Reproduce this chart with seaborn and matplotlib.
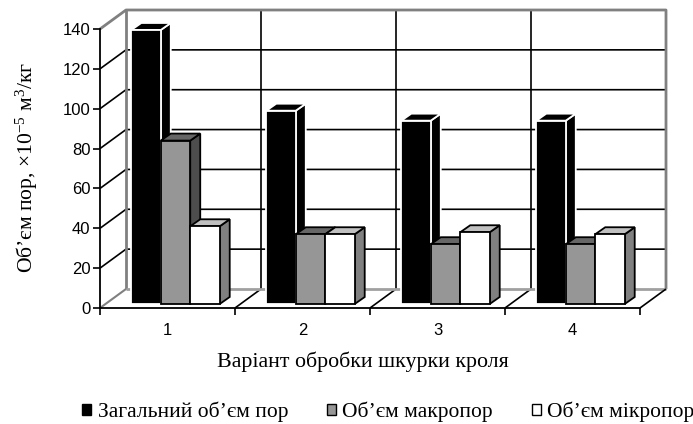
import pandas as pd
import seaborn as sns
import matplotlib.pyplot as plt
from matplotlib.patches import Patch, Polygon
from matplotlib.transforms import Affine2D

variants = ["1", "2", "3", "4"]
series_names = ["Загальний об’єм пор", "Об’єм макропор", "Об’єм мікропор"]
total_pores = [137.5, 97, 92, 92]
macro_pores = [82, 35, 30, 30]
micro_pores = [39, 35, 36, 35]
y_ticks = [0, 20, 40, 60, 80, 100, 120, 140]

# front, side, top colour and outline of each series
front_colors = ["#000000", "#969696", "#ffffff"]
side_colors = ["#000000", "#4d4d4d", "#808080"]
top_colors = ["#000000", "#666666", "#c0c0c0"]
edge_colors = ["#ffffff", "#000000", "#000000"]

df = pd.DataFrame({
    "variant": variants * 3,
    "series": [s for s in series_names for _ in variants],
    "value": total_pores + macro_pores + micro_pores,
})

sns.set_theme(style="white")
plt.rcParams["font.family"] = ["Liberation Sans", "DejaVu Sans"]
plt.rcParams["mathtext.fontset"] = "custom"
plt.rcParams["mathtext.rm"] = "Liberation Serif"
plt.rcParams["mathtext.it"] = "Liberation Serif"
plt.rcParams["mathtext.default"] = "rm"

W, H = 693, 424
fig = plt.figure(figsize=(W / 100, H / 100), dpi=100)
ax = fig.add_axes([100 / W, 1 - 308 / H, 540 / W, 279 / H])

sns.barplot(data=df, x="variant", y="value", hue="series", hue_order=series_names,
            palette=front_colors, saturation=1, width=0.655, gap=0, legend=False, ax=ax)
ax.set_xlim(-0.5, 3.5)
ax.set_ylim(0, 140)

# one pixel in data units, the fake 3D is done with these
px = 4 / 540
py = 140 / 279
wall_dx, wall_dy = 26 * px, 19 * py
bar_off_x, bar_off_y = 8 * px, 4 * py
depth_x, depth_y = 10 * px, 7 * py

x0, x1 = ax.get_xlim()
top = 140


def wall_line(xs, ys, color, lw=1.2, z=1):
    ax.plot(xs, ys, color=color, lw=lw, zorder=z, clip_on=False, solid_capstyle="butt")


# grid on the left wall and back wall
for t in y_ticks[1:-1]:
    wall_line([x0, x0 + wall_dx, x1 + wall_dx], [t, t + wall_dy, t + wall_dy], "black")
for k in range(1, 4):
    c = x0 + k
    wall_line([c, c + wall_dx, c + wall_dx], [0, wall_dy, top + wall_dy], "black")

# wall outline
wall_line([x0, x0 + wall_dx, x1 + wall_dx, x1 + wall_dx],
          [top, top + wall_dy, top + wall_dy, wall_dy], "#808080", lw=2)
wall_line([x0 + wall_dx, x0 + wall_dx], [top + wall_dy, wall_dy], "#808080", lw=2)
wall_line([x0 + wall_dx, x1 + wall_dx], [wall_dy, wall_dy], "#a0a0a0", lw=2)
wall_line([x0, x0 + wall_dx], [0, wall_dy], "#808080", lw=1.5)
wall_line([x1, x1 + wall_dx], [0, wall_dy], "black", lw=1.2)

# move front faces onto the floor and add side and top faces
for i, container in enumerate(ax.containers):
    for bar in container:
        bar.set_transform(Affine2D().translate(bar_off_x, bar_off_y) + ax.transData)
        bar.set_edgecolor(edge_colors[i])
        bar.set_linewidth(1.3)
        bar.set_clip_on(False)
        bar.set_zorder(4 + 2 * i)
        left = bar.get_x() + bar_off_x
        right = left + bar.get_width()
        low = bar_off_y
        high = bar.get_height() + bar_off_y
        side = Polygon([(right, low), (right + depth_x, low + depth_y),
                        (right + depth_x, high + depth_y), (right, high)],
                       facecolor=side_colors[i], edgecolor=edge_colors[i], lw=1.3,
                       zorder=3 + 2 * i, clip_on=False)
        roof = Polygon([(left, high), (left + depth_x, high + depth_y),
                        (right + depth_x, high + depth_y), (right, high)],
                       facecolor=top_colors[i], edgecolor=edge_colors[i], lw=1.3,
                       zorder=3 + 2 * i, clip_on=False)
        ax.add_patch(side)
        ax.add_patch(roof)

sns.despine(ax=ax, top=True, right=True)
for name in ["left", "bottom"]:
    ax.spines[name].set_color("black")
    ax.spines[name].set_linewidth(1.3)

ax.set_yticks(y_ticks)
ax.tick_params(axis="y", left=True, length=5, width=1.2, color="black",
               labelsize=12, labelcolor="black", pad=2)
ax.set_xticks(range(len(variants)))
ax.set_xticklabels(variants)
ax.set_xticks([x0 + k for k in range(5)], minor=True)
ax.tick_params(axis="x", which="major", bottom=False, labelsize=12, labelcolor="black", pad=5)
ax.tick_params(axis="x", which="minor", bottom=True, length=5, width=1.2, color="black")

ax.set_xlabel("Варіант обробки шкурки кроля", family="Liberation Serif", fontsize=15.8,
              color="black")
ax.xaxis.set_label_coords(263 / 540, -44 / 279)
ax.set_ylabel("Об’єм пор, ×10$^{-5}$ м$^{3}$/кг", family="Liberation Serif", fontsize=15.6,
              color="black")
ax.yaxis.set_label_coords(-60 / 540, 141 / 279)

handles = [Patch(facecolor=front_colors[i], edgecolor="black", lw=1, label=series_names[i])
           for i in range(3)]
fig.legend(handles=handles, ncol=3, frameon=False, loc="center left",
           bbox_to_anchor=(82 / W, 1 - 412 / H), prop={"family": "Liberation Serif", "size": 15.5},
           handlelength=0.42, handleheight=0.42, handletextpad=0.3, columnspacing=1.8,
           labelcolor="black", borderpad=0, borderaxespad=0)

fig.savefig("out.png", dpi=100)
